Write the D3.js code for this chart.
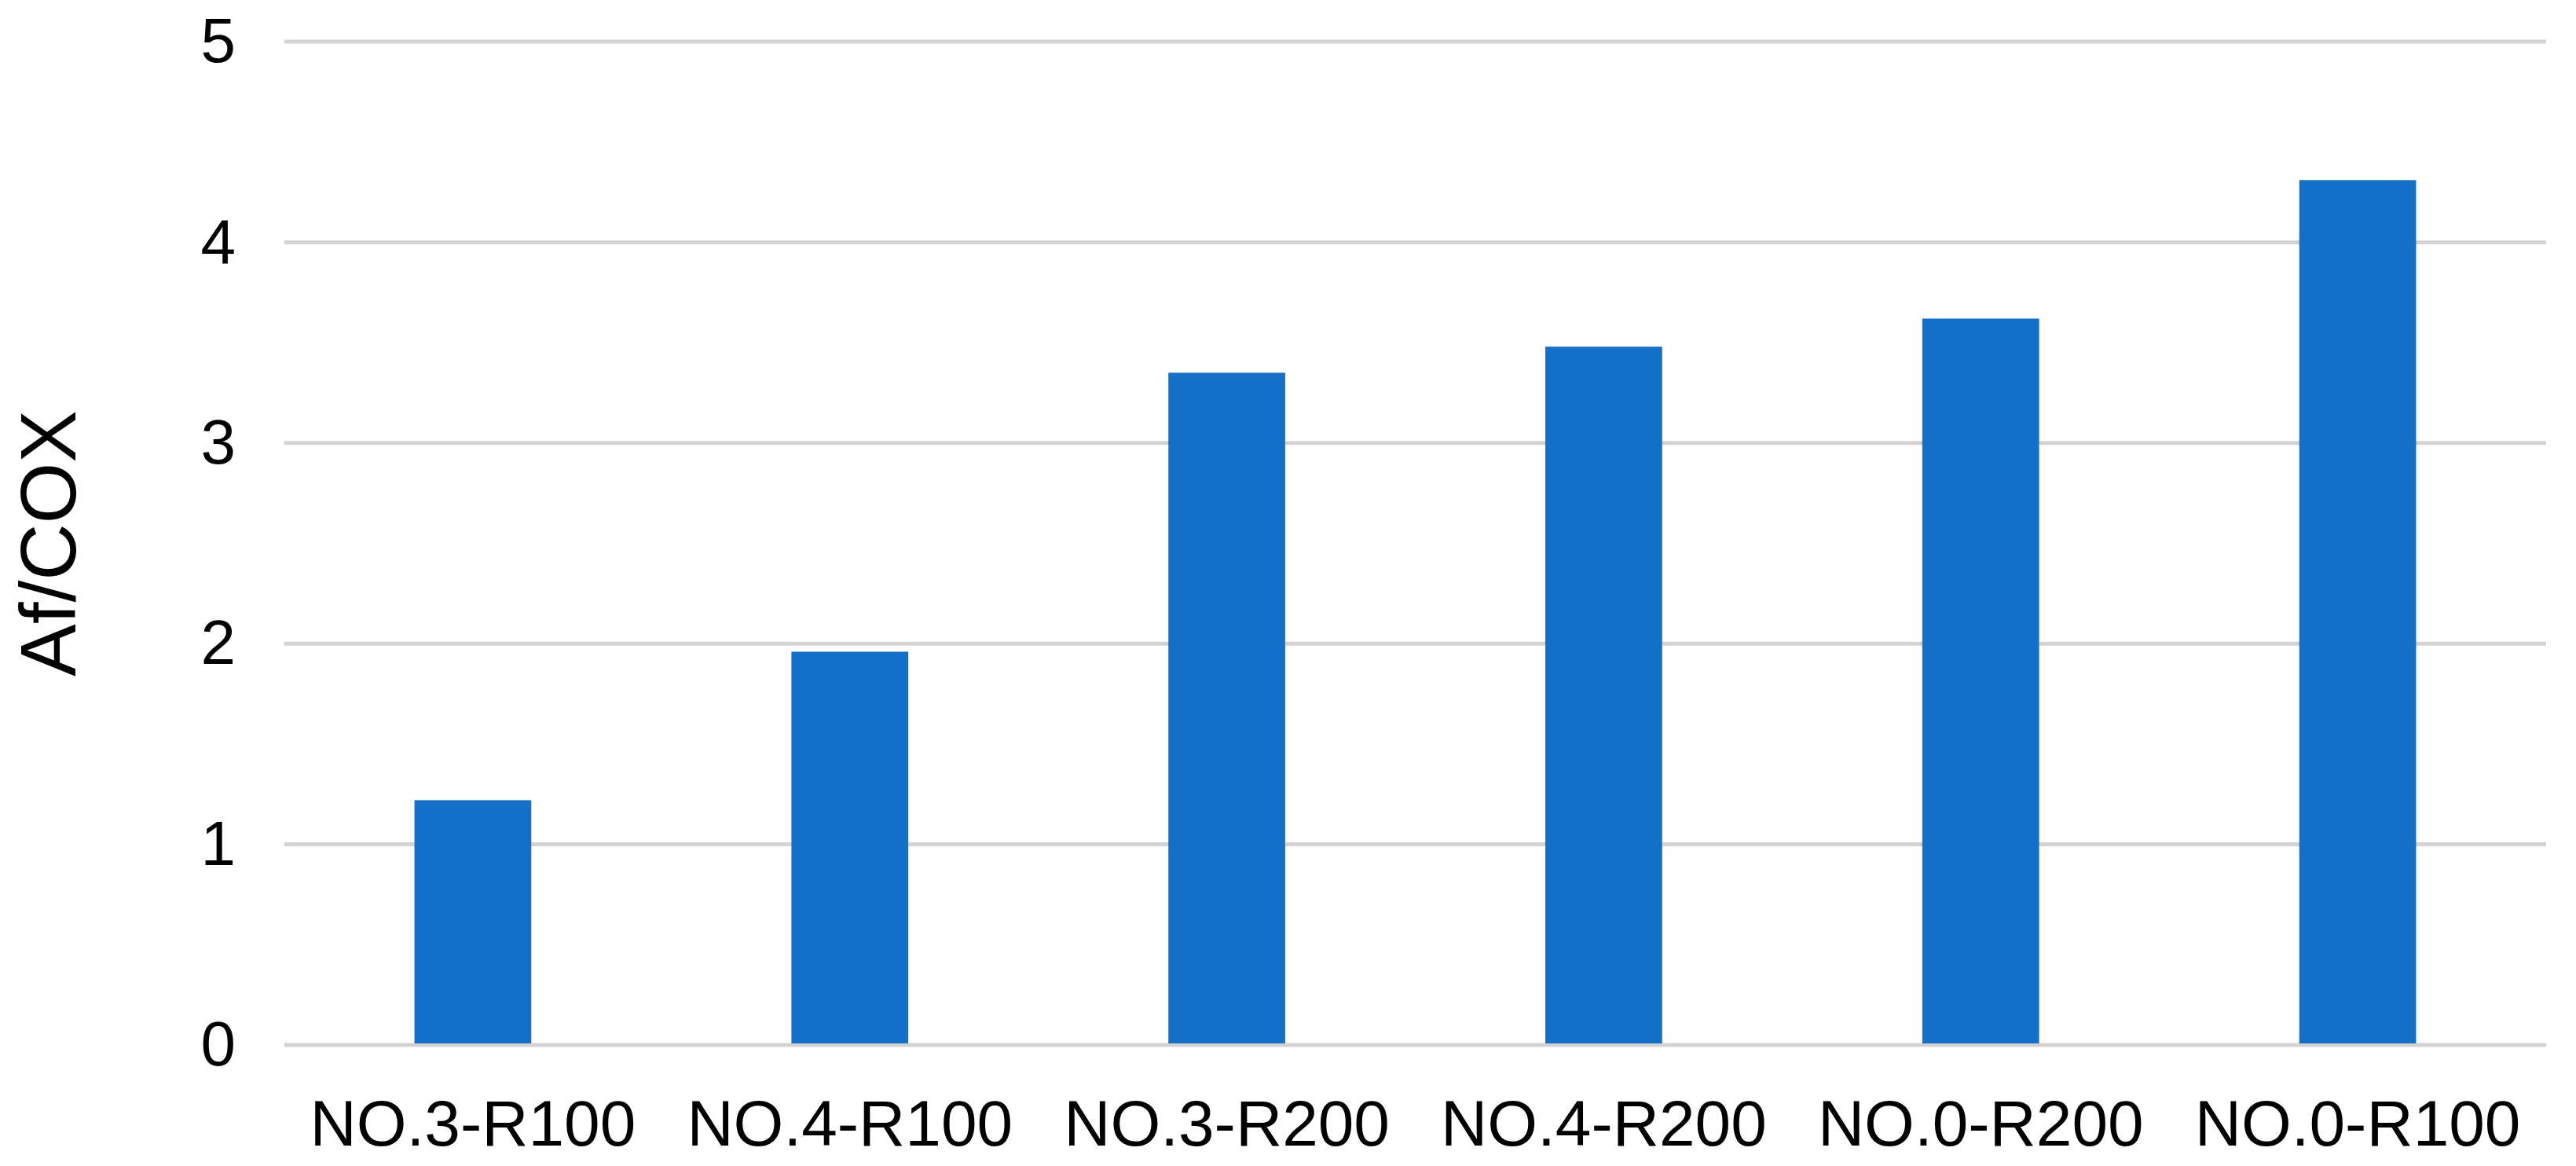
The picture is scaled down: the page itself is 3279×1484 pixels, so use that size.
<!DOCTYPE html>
<html>
<head>
<meta charset="utf-8">
<script src="https://cdn.jsdelivr.net/npm/d3@7"></script>
<style>
  body { margin: 0; background: #ffffff; }
  svg { display: block; }
</style>
</head>
<body>
<div id="chart"></div>
<script>
//chart data
const categories = ["NO.3-R100", "NO.4-R100", "NO.3-R200", "NO.4-R200", "NO.0-R200", "NO.0-R100"];
const afCox = [1.22, 1.96, 3.35, 3.48, 3.62, 4.31];
const yTicks = [0, 1, 2, 3, 4, 5];
const yTitle = "Af/COX";

const width = 3279,
  height = 1484;
const margin = { top: 53, right: 38, bottom: 154, left: 362 };
const font = "'Liberation Sans', Arial, sans-serif";

const svg = d3
  .select("#chart")
  .append("svg")
  .attr("width", width)
  .attr("height", height)
  .style("background", "#ffffff");

//x scale, one band per category with the bar taking ~31% of it
const x = d3
  .scaleBand()
  .domain(categories)
  .range([margin.left, width - margin.right])
  .paddingInner(0.69)
  .paddingOuter(0.345);

const y = d3
  .scaleLinear()
  .domain([0, 5])
  .range([height - margin.bottom, margin.top]);

//gridlines
svg
  .append("g")
  .attr("class", "grid")
  .selectAll("line")
  .data(yTicks)
  .enter()
  .append("line")
  .attr("x1", margin.left)
  .attr("x2", width - margin.right)
  .attr("y1", (d) => y(d))
  .attr("y2", (d) => y(d))
  .attr("stroke", "#d3d3d3")
  .attr("stroke-width", 5);

//bars
svg
  .append("g")
  .selectAll("rect")
  .data(afCox)
  .enter()
  .append("rect")
  .attr("x", (d, i) => x(categories[i]))
  .attr("y", (d) => y(d))
  .attr("width", x.bandwidth())
  .attr("height", (d) => y(0) - y(d) - 2)
  .attr("fill", "#1571c8");

//y axis tick labels (no axis line)
const yAxis = svg
  .append("g")
  .attr("transform", "translate(" + (margin.left - 62) + ",0)")
  .call(d3.axisLeft(y).tickValues(yTicks).tickFormat(d3.format("d")).tickSize(0).tickPadding(0));
yAxis.select(".domain").remove();
yAxis
  .selectAll("text")
  .style("font-family", font)
  .style("font-size", "80px")
  .attr("fill", "#000000");

//x axis category labels
const xAxis = svg
  .append("g")
  .attr("transform", "translate(0," + y(0) + ")")
  .call(d3.axisBottom(x).tickSize(0).tickPadding(70));
xAxis.select(".domain").remove();
xAxis
  .selectAll("text")
  .style("font-family", font)
  .style("font-size", "82px")
  .attr("fill", "#000000");

//y axis title
svg
  .append("text")
  .attr("transform", "translate(96," + (margin.top + (height - margin.bottom - margin.top) / 2) + ") rotate(-90)")
  .attr("text-anchor", "middle")
  .style("font-family", font)
  .style("font-size", "100px")
  .attr("fill", "#000000")
  .text(yTitle);
</script>
</body>
</html>
